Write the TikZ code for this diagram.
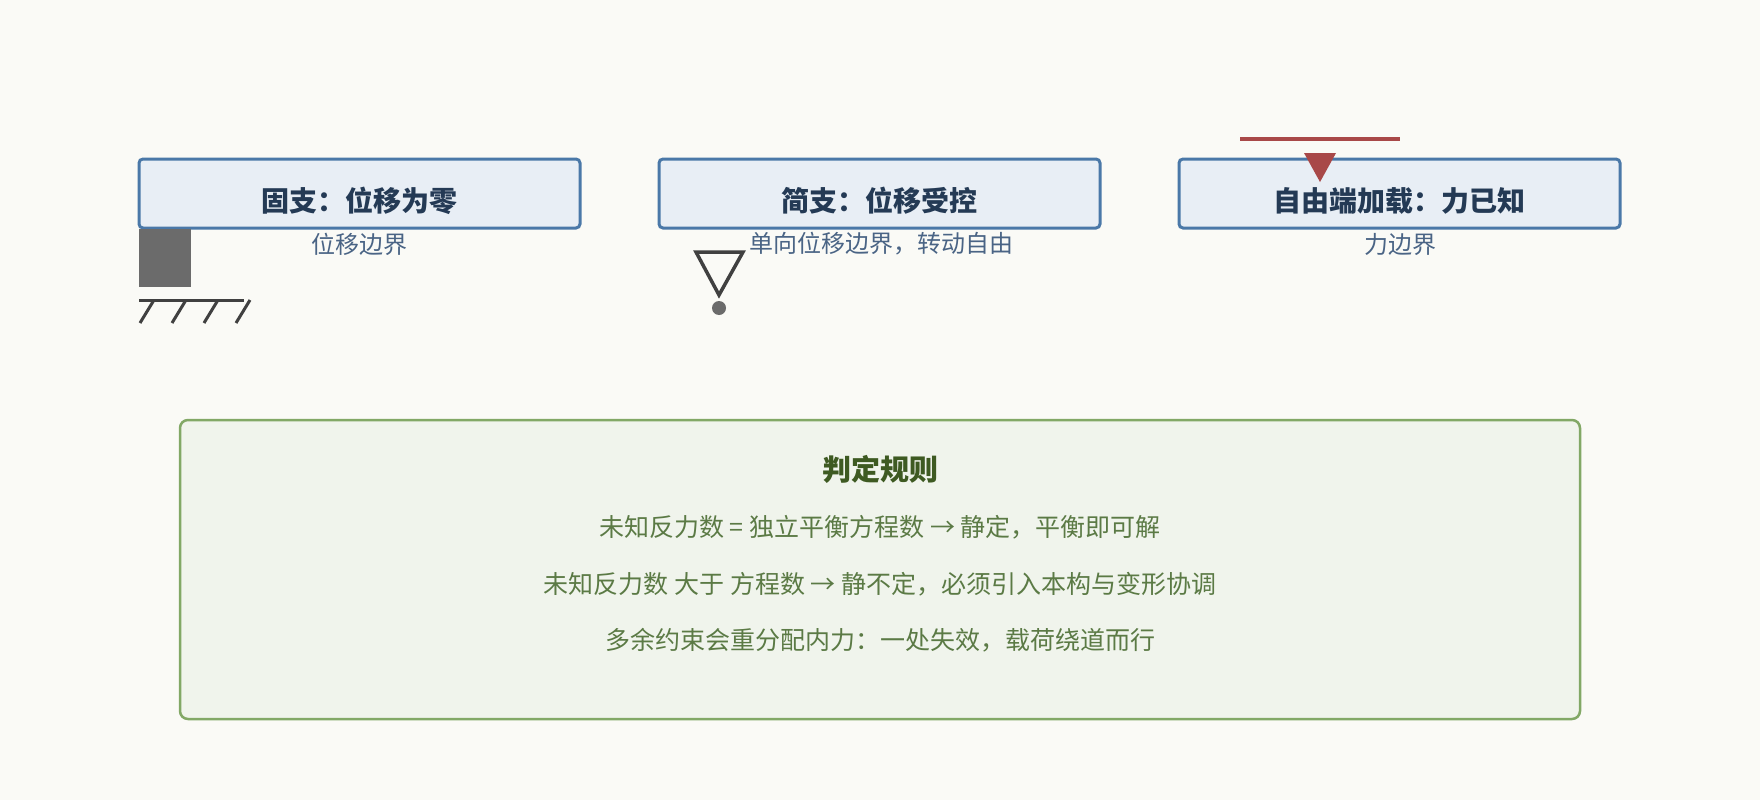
\documentclass[tikz,border=0pt]{standalone}
\usepackage{fontspec}
\setmainfont{Noto Sans CJK SC}
\begin{document}
\begin{tikzpicture}[x=1pt,y=-1pt,
  box/.style={draw=boxb,line width=3pt,fill=boxf,rounded corners=4pt},
  ttl/.style={font=\fontsize{28}{32}\selectfont\bfseries,text=ttlc},
  sub/.style={font=\fontsize{24}{28}\selectfont,text=subc},
  gtxt/.style={font=\fontsize{25}{29}\selectfont,text=gtc}]
\definecolor{bg}{HTML}{FAFAF6}
\definecolor{boxb}{HTML}{4A78A8}
\definecolor{boxf}{HTML}{E8EEF5}
\definecolor{ttlc}{HTML}{243A55}
\definecolor{subc}{HTML}{4A6485}
\definecolor{gb}{HTML}{82A866}
\definecolor{gf}{HTML}{F0F4EC}
\definecolor{gtc}{HTML}{5B7A45}
\definecolor{gtt}{HTML}{3E5A22}
\definecolor{redc}{HTML}{A84848}
\fill[bg] (0,0) rectangle (1760,800);
\useasboundingbox (0,0) rectangle (1760,800);
% boxes
\draw[box] (139,159) rectangle (580,228);
\draw[box] (659,159) rectangle (1100,228);
\draw[box] (1179,159) rectangle (1620,228);
\node[ttl] (t1) at (359.5,201) {固支：位移为零};
\node[ttl] (t2) at (879.5,201) {简支：位移受控};
\node[ttl] (t3) at (1399.5,201) {自由端加载：力已知};
\node[sub] (s1) at (359,244) {位移边界};
\node[sub] (s2) at (881,244) {单向位移边界，转动自由};
\node[sub] (s3) at (1400,244) {力边界};
% fixed support
\fill[black!58] (139,229) rectangle (191,287);
\draw[line width=3pt,black!75] (139,300) -- (244,300);
\foreach \x in {154,186,218,250}
  \draw[line width=3pt,black!75] (\x,300) -- (\x-14,323);
% pin
\draw[line width=3.5pt,black!75,line join=miter] (696,252) -- (743,252) -- (719,295) -- cycle;
\fill[black!58] (719,308) circle (7);
% load
\draw[line width=4pt,redc] (1240,139) -- (1400,139);
\fill[redc] (1304,153) -- (1336,153) -- (1320,182) -- cycle;
% rules
\draw[draw=gb,line width=2.5pt,fill=gf,rounded corners=8pt] (180,420) rectangle (1580,719);
\node[font=\fontsize{29}{33}\selectfont\bfseries,text=gtt] (r0) at (880,469) {判定规则};
\node[gtxt] (r1) at (880,527) {未知反力数 = 独立平衡方程数 → 静定，平衡即可解};
\node[gtxt] (r2) at (880,584) {未知反力数 大于 方程数 → 静不定，必须引入本构与变形协调};
\node[gtxt] (r3) at (880,640) {多余约束会重分配内力：一处失效，载荷绕道而行};
\end{tikzpicture}
\end{document}
